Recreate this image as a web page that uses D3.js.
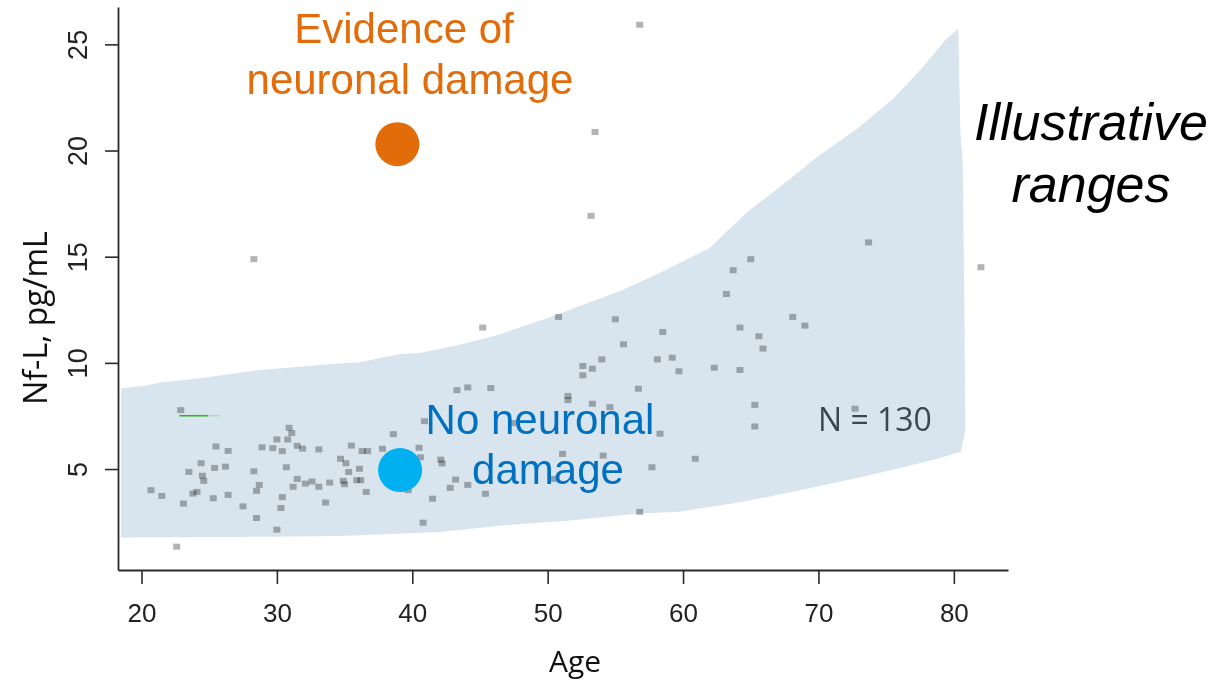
<!DOCTYPE html>
<html>
<head>
<meta charset="utf-8">
<script src="https://cdn.jsdelivr.net/npm/d3@7"></script>
<style>
  html, body { margin: 0; padding: 0; background: #fff; }
  svg { display: block; }
  .pt { mix-blend-mode: multiply; }
</style>
</head>
<body>
<svg id="chart" width="1214" height="682"></svg>
<script>
// Age (years) and Nf-L (pg/mL) of the individual samples
const ages = [22.9,25.5,26.4,24.4,23.5,25.4,26.2,24.5,24.6,20.7,21.5,23.8,24.1,23.1,25.3,26.4,27.5,28.5,28.3,28.7,
  28.5,28.9,29.7,30.0,30.0,22.6,30.9,31.1,30.8,30.4,31.5,31.9,33.1,35.5,36.3,36.7,37.8,38.6,40.9,40.5,
  40.6,34.7,35.1,35.3,36.1,30.7,31.5,31.2,32.1,32.6,33.1,33.9,34.9,35.0,35.9,36.2,36.6,30.4,30.3,33.6,
  39.7,40.8,41.5,45.2,43.3,44.1,45.8,51.5,51.5,47.4,42.1,42.2,43.2,42.8,44.1,45.4,51.1,50.4,50.8,55.0,
  58.5,55.6,54.0,58.1,59.2,52.6,53.3,52.6,56.7,53.3,54.6,58.3,54.1,57.7,56.8,59.7,62.3,60.9,73.7,65.0,
  63.7,63.2,68.1,69.0,64.2,65.6,65.9,64.2,65.3,65.3,72.7,28.3,56.8,53.5,53.2,82.0];
const nfl = [7.75,6.04,5.83,5.25,4.84,5.03,5.09,4.66,4.42,3.98,3.71,3.82,3.90,3.35,3.60,3.76,3.22,2.67,4.87,4.23,
  3.95,6.00,5.96,6.37,2.12,1.32,6.92,6.67,6.37,5.82,6.07,5.94,5.90,6.08,5.82,5.82,5.93,6.62,7.23,5.98,
  5.53,5.46,5.25,4.84,4.99,5.06,4.51,4.14,4.29,4.39,4.14,4.34,4.42,4.26,4.45,4.45,3.90,3.65,3.14,3.40,
  3.98,2.45,3.58,11.64,8.69,8.82,8.79,8.42,8.22,7.14,5.42,5.24,4.48,4.09,4.23,3.81,5.69,4.51,12.14,12.03,
  11.43,10.85,10.14,10.14,10.22,9.83,9.70,9.39,8.76,8.05,7.89,6.64,5.61,5.06,2.96,9.58,9.75,5.46,15.65,14.86,
  14.34,13.22,12.14,11.73,11.64,11.23,10.65,9.64,8.00,6.98,7.82,14.86,25.90,20.85,16.90,14.48];

// Shaded reference range: upper edge (left to right, down the right side) and lower edge (right to left)
const bandUpperAge = [18.49,20.38,21.37,24.32,28.75,34.13,36.13,39.08,40.55,43.51,46.46,50.64,55.56,58.27,61.96,
  64.66,67.37,69.83,72.78,75.48,77.45,79.42,80.33,80.48,80.65,80.77,80.85,80.53];
const bandUpperNfl = [8.79,8.93,9.07,9.28,9.67,9.95,10.03,10.42,10.46,10.85,11.34,12.26,13.44,14.23,15.41,
  17.06,18.40,19.66,20.99,22.41,23.74,25.24,25.74,20.85,19.58,12.97,6.84,5.82];
const bandLowerAge = [78.44,73.27,69.34,64.41,59.74,56.79,51.87,46.95,42.03,34.65,29.48,18.49];
const bandLowerNfl = [5.42,4.64,4.09,3.46,2.99,2.91,2.59,2.36,2.04,1.85,1.81,1.78];

// Marker positions for the two illustrative cases
const markerAge = [38.9, 39.1];
const markerNfl = [20.3, 4.95];
const markerColor = ["#e36c0a", "#00b0f0"];

// Short green trace left over in the plot area
const traceAge = [22.8, 24.9, 25.8];
const traceNfl = [7.51, 7.51, 7.51];

const xTicks = [20, 30, 40, 50, 60, 70, 80];
const yTicks = [5, 10, 15, 20, 25];

const svg = d3.select("#chart");

const x = d3.scaleLinear().domain([18.265, 84.0]).range([118, 1008]);
const y = d3.scaleLinear().domain([0.245, 26.76]).range([570, 7]);

// Range band
const band = bandUpperAge.map((a, i) => [a, bandUpperNfl[i]])
  .concat(bandLowerAge.map((a, i) => [a, bandLowerNfl[i]]));
svg.append("path")
  .attr("d", d3.line().x(d => x(d[0])).y(d => y(d[1]))(band) + "Z")
  .attr("fill", "#d9e5ee");

// Green trace
svg.append("line")
  .attr("x1", x(traceAge[0])).attr("x2", x(traceAge[1]))
  .attr("y1", y(traceNfl[0])).attr("y2", y(traceNfl[1]))
  .attr("stroke", "#2fb52f").attr("stroke-width", 1.6);
svg.append("line")
  .attr("x1", x(traceAge[1])).attr("x2", x(traceAge[2]))
  .attr("y1", y(traceNfl[1])).attr("y2", y(traceNfl[2]))
  .attr("stroke", "#2fb52f").attr("stroke-opacity", 0.25).attr("stroke-width", 1.4);

// Sample points
const s = 7;
svg.append("g").selectAll("rect")
  .data(ages.map((a, i) => [a, nfl[i]]))
  .join("rect")
  .attr("class", "pt")
  .attr("x", d => x(d[0]) - s / 2)
  .attr("y", d => y(d[1]) - s / 2)
  .attr("width", s).attr("height", s - 1)
  .attr("fill", "#b3b3b3");

// Axes
const axisColor = "#2a2a2a";
const tickFont = "'Liberation Sans Narrow','Arial Narrow','Liberation Sans',sans-serif";
const gx = svg.append("g").attr("transform", "translate(0,570)")
  .call(d3.axisBottom(x).tickValues(xTicks).tickSize(14).tickSizeOuter(0).tickFormat(d3.format("d")));
gx.selectAll("text").attr("y", 52).attr("dy", null)
  .style("font-family", tickFont)
  .style("font-size", "26px").attr("fill", "#222");

const gy = svg.append("g").attr("transform", "translate(118,0)")
  .call(d3.axisLeft(y).tickValues(yTicks).tickSize(13).tickSizeOuter(0).tickFormat(d3.format("d")));
gy.selectAll("text").attr("x", null).attr("dy", null)
  .attr("text-anchor", "middle")
  .attr("transform", "translate(-31,0) rotate(-90)")
  .style("font-family", tickFont)
  .style("font-size", "27px").attr("fill", "#222");

[gx, gy].forEach(g => {
  g.select(".domain").attr("stroke", axisColor).attr("stroke-width", 1.8);
  g.selectAll(".tick line").attr("stroke", axisColor).attr("stroke-width", 1.6);
});

// Axis titles
svg.append("text").attr("x", 575).attr("y", 672)
  .attr("text-anchor", "middle")
  .style("font-family", "'Open Sans','Noto Sans',sans-serif").style("font-size", "30px")
  .attr("fill", "#111").text("Age");
svg.append("text")
  .attr("transform", "translate(47,318) rotate(-90)")
  .attr("text-anchor", "middle")
  .style("font-family", "'Open Sans','Noto Sans',sans-serif").style("font-size", "32px")
  .attr("fill", "#111").text("Nf-L, pg/mL");

// Illustrative case markers
svg.append("g").selectAll("circle")
  .data(markerAge.map((a, i) => ({a, v: markerNfl[i], c: markerColor[i]})))
  .join("circle")
  .attr("cx", d => x(d.a)).attr("cy", d => y(d.v)).attr("r", 22)
  .attr("fill", d => d.c);

// Annotations
const ann = (txt, cx, by, color, size, italic, family) => svg.append("text")
  .attr("x", cx).attr("y", by).attr("text-anchor", "middle")
  .style("font-family", family || "'Liberation Sans',Arial,sans-serif")
  .style("font-size", size + "px")
  .style("font-style", italic ? "italic" : "normal")
  .attr("fill", color).text(txt);

ann("Evidence of", 404, 43, "#e36c0a", 42);
ann("neuronal damage", 410, 94, "#e36c0a", 42);
ann("No neuronal", 540, 434, "#0070c0", 42);
ann("damage", 548, 484, "#0070c0", 42);
ann("Illustrative", 1091, 140, "#000", 52, true);
ann("ranges", 1091, 202, "#000", 52, true);

svg.append("text").attr("x", 818).attr("y", 431)
  .style("font-family", "'Open Sans','Noto Sans',sans-serif").style("font-size", "32px")
  .attr("fill", "#3a4650").text("N = 130");
</script>
</body>
</html>
